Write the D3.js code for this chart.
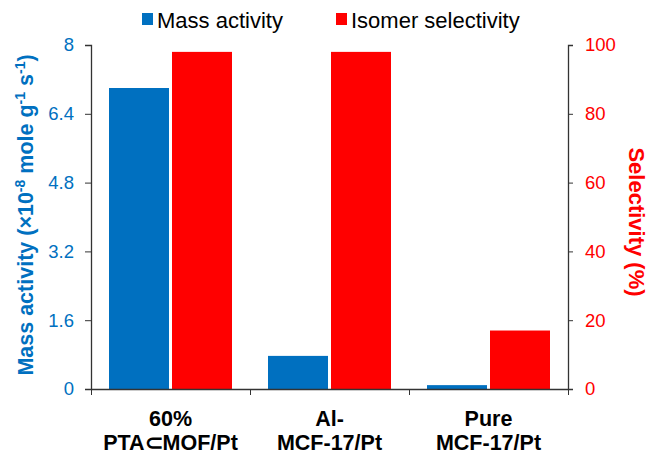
<!DOCTYPE html>
<html><head><meta charset="utf-8">
<script src="https://cdn.jsdelivr.net/npm/d3@7"></script>
<style>body{margin:0;background:#fff}svg{display:block;font-family:Arial,"Liberation Sans",sans-serif}</style>
</head><body><svg id="c" width="648" height="455"></svg>
<script>
const categories = [["60%","PTA\u2282MOF/Pt"],["Al-","MCF-17/Pt"],["Pure","MCF-17/Pt"]];
const massActivity = [7.0, 0.77, 0.09];
const selectivity = [98, 98, 17];
const leftTicks = [0, 1.6, 3.2, 4.8, 6.4, 8];
const rightTicks = [0, 20, 40, 60, 80, 100];
const seriesNames = ["Mass activity", "Isomer selectivity"];
const blue = "#0070C0", red = "#FF0000";

const svg = d3.select("#c");
const m = {l:91, r:568, t:45, b:389};
const x = d3.scaleBand().domain(d3.range(categories.length)).range([m.l, m.r]).paddingInner(0).paddingOuter(0);
const yL = d3.scaleLinear().domain([0, 8]).range([m.b, m.t]);
const yR = d3.scaleLinear().domain([0, 100]).range([m.b, m.t]);
const pad = 18, gap = 3;
const bw = (x.bandwidth() - 2*pad - gap)/2;

const g = svg.append("g");
g.selectAll("rect.b").data(massActivity).join("rect").attr("class","b")
 .attr("x",(d,i)=>x(i)+pad).attr("width",bw)
 .attr("y",d=>yL(d)).attr("height",d=>m.b-yL(d)).attr("fill",blue);
g.selectAll("rect.r").data(selectivity).join("rect").attr("class","r")
 .attr("x",(d,i)=>x(i)+pad+bw+gap).attr("width",bw)
 .attr("y",d=>yR(d)).attr("height",d=>m.b-yR(d)).attr("fill",red);

// left axis
const la = svg.append("g").attr("transform",`translate(${m.l},0)`)
 .call(d3.axisLeft(yL).tickValues(leftTicks).tickFormat(d=>d).tickSize(6).tickPadding(11));
la.select(".domain").attr("stroke","#333").attr("stroke-width",1.3);
la.selectAll(".tick line").attr("stroke","#333");
la.selectAll("text").attr("fill",blue).attr("font-size",18.5);

const ra = svg.append("g").attr("transform",`translate(${m.r},0)`)
 .call(d3.axisRight(yR).tickValues(rightTicks).tickSize(5).tickPadding(12));
ra.select(".domain").attr("stroke","#333").attr("stroke-width",1.3);
ra.selectAll(".tick line").attr("stroke","#333");
ra.selectAll("text").attr("fill",red).attr("font-size",18.5);

// bottom axis
const bx = d3.scaleLinear().domain([0,3]).range([m.l, m.r]);
const ba = svg.append("g").attr("transform",`translate(0,${m.b})`)
 .call(d3.axisBottom(bx).tickValues([0,1,2,3]).tickFormat("").tickSize(6).tickSizeOuter(0));
ba.select(".domain").attr("stroke","#333").attr("stroke-width",1.3);
ba.selectAll(".tick line").attr("stroke","#333");

// category labels
categories.forEach((c,i)=>{
  const t = svg.append("text").attr("text-anchor","middle").attr("font-weight","bold")
   .attr("font-size",21.5).attr("fill","#000");
  c.forEach((line,j)=>t.append("tspan").attr("x",x(i)+x.bandwidth()/2).attr("y",426+j*24).text(line));
});

// left title
const lt = svg.append("text").attr("transform","translate(33,215) rotate(-90)")
 .attr("text-anchor","middle").attr("font-weight","bold").attr("font-size",21.5).attr("fill",blue);
lt.append("tspan").text("Mass activity (\u00d710");
lt.append("tspan").attr("baseline-shift","super").attr("font-size",14).text("-8");
lt.append("tspan").text(" mole g");
lt.append("tspan").attr("baseline-shift","super").attr("font-size",14).text("-1");
lt.append("tspan").text(" s");
lt.append("tspan").attr("baseline-shift","super").attr("font-size",14).text("-1");
lt.append("tspan").text(")");

svg.append("text").attr("transform","translate(629,222) rotate(90)")
 .attr("text-anchor","middle").attr("font-weight","bold").attr("font-size",22).attr("fill",red)
 .text("Selectivity (%)");

// legend
const leg = [{n:seriesNames[0],c:blue,x:142},{n:seriesNames[1],c:red,x:336}];
leg.forEach(l=>{
  svg.append("rect").attr("x",l.x).attr("y",13).attr("width",11).attr("height",12).attr("fill",l.c);
  svg.append("text").attr("x",l.x+15).attr("y",28).attr("font-size",22).attr("fill","#000").text(l.n);
});
</script></body></html>
